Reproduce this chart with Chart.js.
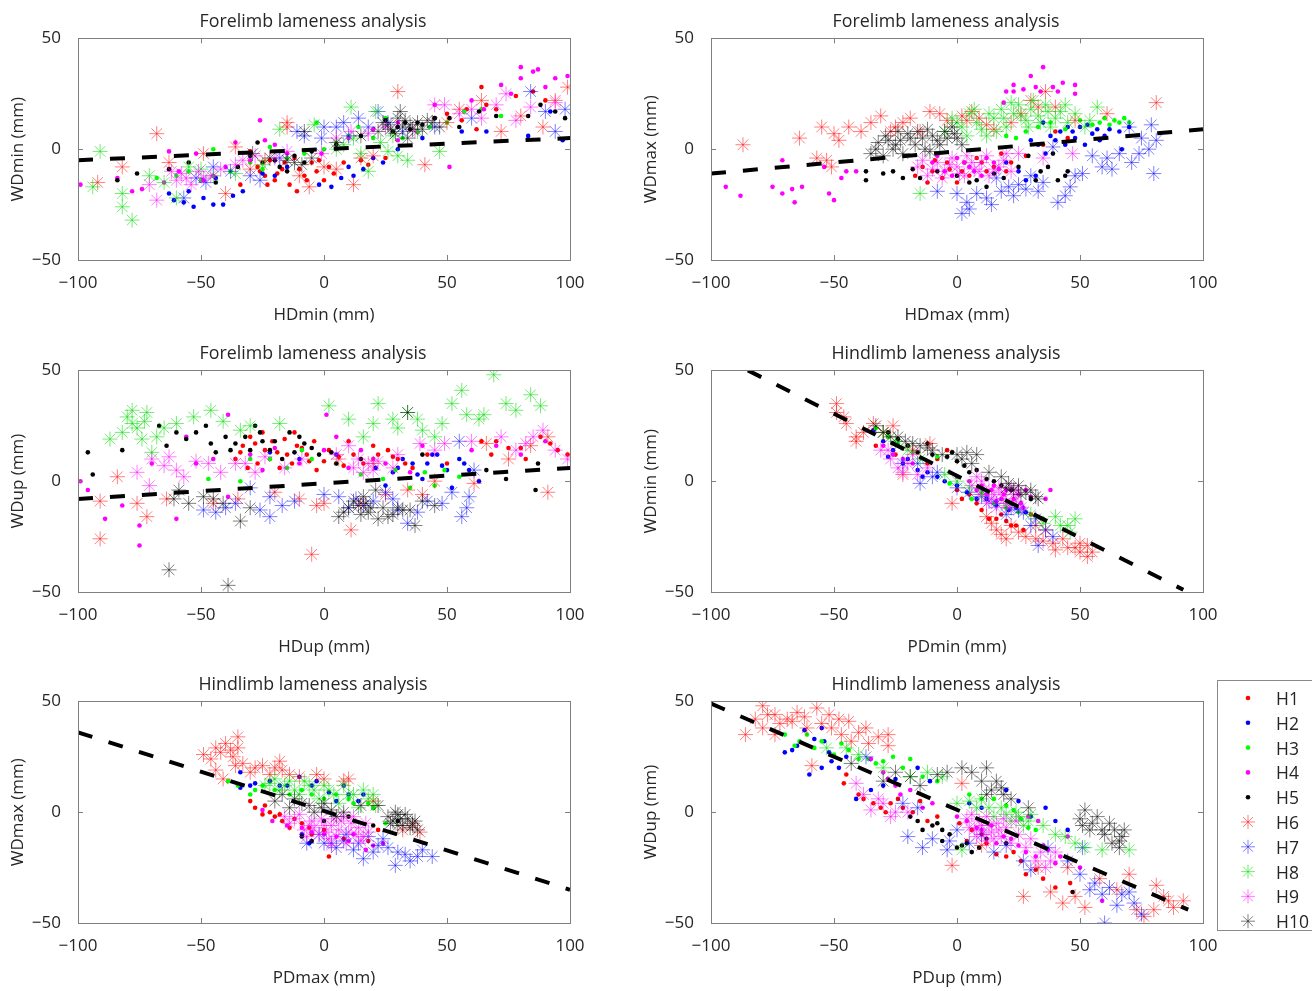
<!DOCTYPE html>
<html>
<head>
<meta charset="utf-8">
<script src="https://cdn.jsdelivr.net/npm/chart.js@4/dist/chart.umd.min.js"></script>
<style>
body{margin:0;background:#fff;width:1312px;height:991px;position:relative;overflow:hidden;font-family:"Open Sans",sans-serif}
canvas.pl{position:absolute}
#legend{position:absolute;left:1217px;top:680px;width:100px;height:251px;border:1px solid #8a8a8a;background:#fff;box-sizing:border-box}
#legend canvas{position:absolute;left:0;top:0}
#legend span{position:absolute;left:58px;font-size:17.5px;color:#262626;line-height:20px}
</style>
</head>
<body>
<canvas class="pl" id="c1" width="656" height="330" style="left:0;top:0"></canvas>
<canvas class="pl" id="c2" width="656" height="330" style="left:633px;top:0"></canvas>
<canvas class="pl" id="c3" width="656" height="330" style="left:0;top:332px"></canvas>
<canvas class="pl" id="c4" width="656" height="330" style="left:633px;top:332px"></canvas>
<canvas class="pl" id="c5" width="656" height="330" style="left:0;top:663px"></canvas>
<canvas class="pl" id="c6" width="656" height="330" style="left:633px;top:663px"></canvas>
<div id="legend"><canvas id="lg" width="100" height="251"></canvas></div>
<script>
// labels
var horses=['H1','H2','H3','H4','H5','H6','H7','H8','H9','H10'];
var panelTitles=['Forelimb lameness analysis','Forelimb lameness analysis','Forelimb lameness analysis','Hindlimb lameness analysis','Hindlimb lameness analysis','Hindlimb lameness analysis'];
var xNames=['HDmin (mm)','HDmax (mm)','HDup (mm)','PDmin (mm)','PDmax (mm)','PDup (mm)'];
var yNames=['WDmin (mm)','WDmax (mm)','WDup (mm)','WDmin (mm)','WDmax (mm)','WDup (mm)'];
var xTickVals=[-100,-50,0,50,100];
var yTickVals=[-50,0,50];

// panel 1 : HDmin vs WDmin
var p1Fit=[[-100,-5],[100,5]];
var p1H1=[[-30,-1],[-27,-8],[-24,-12],[-20,-14],[-17,-9],[-14,-16],[-11,-19],[-8,-12],[-5,-6],[-22,-5],[-3,-10],[2,-8],[8,-6],[15,-5],[18,-7],[25,-4],[45,14],[50,16],[56,13],[62,9],[64,28],[70,18],[78,24],[85,26],[90,22],[-34,-16],[-12,-4],[0,-14],[-26,-10],[-19,-11],[-16,-6],[-10,-9],[-7,-14],[-2,-5],[4,-11],[-23,-16],[58,18],[66,20]];
var p1H2=[[-63,-20],[-61,-23],[-57,-24],[-53,-26],[-49,-22],[-45,-25],[-41,-25],[-44,-13],[-55,-19],[-33,-19],[-25,-11],[-15,-8],[-2,-16],[3,-17],[7,-13],[10,-8],[16,-9],[24,-6],[30,0],[40,5],[56,8],[66,8],[83,6],[92,17],[97,4],[-37,-21],[-20,-12],[12,-12],[20,-4]];
var p1H3=[[-68,-13],[-55,-10],[-45,0],[-38,-10],[-30,-6],[-22,1],[-15,-4],[-8,-2],[-3,12],[5,3],[14,10],[20,5],[25,14],[32,5],[38,8],[43,10],[50,12],[57,17],[64,18],[72,15],[-60,-12],[-50,-14],[-25,-9],[0,0],[10,6]];
var p1H4=[[-99,-16],[-84,-13],[-78,-19],[-74,-18],[-63,-1],[-59,-10],[-52,-2],[-49,-14],[-36,3],[-26,13],[-24,4],[-15,-2],[-1,-2],[10,5],[20,9],[30,12],[45,20],[51,-8],[60,22],[72,29],[76,25],[80,37],[80,32],[85,35],[87,36],[94,32],[99,33],[-65,-15],[-45,-12],[-40,-8],[-30,-5],[-20,2],[5,0],[30,4],[65,18],[90,28]];
var p1H5=[[-84,-14],[-76,-11],[-63,-9],[-55,-6],[-44,-15],[-35,-8],[-30,-3],[-27,3],[-20,-5],[-12,-3],[-5,-1],[5,2],[15,6],[25,13],[30,10],[38,12],[45,14],[51,14],[55,10],[63,17],[70,15],[83,15],[88,20],[94,17],[98,14],[-25,-6],[-18,-8],[-15,-10],[-8,-6],[28,8],[33,12],[35,9],[40,11]];
var p1H6=[[-92,-15],[-82,-8],[-68,7],[-63,-6],[-49,-2],[-40,-20],[-36,1],[-24,-5],[-15,12],[-15,10],[-6,-17],[0,-8],[12,-16],[20,-3],[30,26],[41,-7],[50,12],[64,22],[72,8],[89,10],[94,22],[99,28],[-30,-9],[-10,-12],[5,-9],[15,-4],[55,18],[80,15]];
var p1H7=[[-57,-22],[-52,-13],[-45,-8],[-38,-10],[-26,-14],[-18,-4],[-11,8],[-1,5],[5,10],[14,14],[22,17],[32,8],[45,10],[60,14],[84,26],[90,17],[94,8],[98,18],[-8,6],[0,10],[8,12],[10,6],[18,10],[26,12],[-30,-12],[-48,-15]];
var p1H8=[[-94,-17],[-91,-1],[-82,-20],[-82,-26],[-78,-32],[-71,-12],[-60,-22],[-50,-9],[-36,-11],[-25,-7],[-18,9],[-4,11],[5,0],[11,19],[18,-10],[21,17],[26,-1],[34,-5],[38,8],[47,-1],[8,2],[12,5],[15,-2],[23,3],[28,6],[30,-3],[-65,-15],[-55,-8],[-45,-12]];
var p1H9=[[-71,-16],[-68,-23],[-62,-10],[-56,-13],[-49,-13],[-42,-9],[-36,-7],[-28,-3],[-15,-1],[-1,-2],[11,8],[25,10],[37,8],[45,20],[49,20],[64,14],[74,25],[78,13],[84,19],[94,21],[-60,-14],[-58,-11],[-54,-16],[-51,-10],[-46,-12],[-33,-5],[-20,-4],[5,5],[18,7],[55,16],[60,18],[70,20]];
var p1H10=[[-29,-2],[-22,-4],[-15,-5],[-9,-7],[-8,8],[5,3],[15,6],[22,8],[26,11],[30,14],[31,17],[32,10],[34,5],[36,9],[38,12],[42,13],[47,10],[24,12],[27,9],[29,7],[33,13],[35,11],[40,9],[44,12],[-12,-6],[-5,-4]];

// panel 2 : HDmax vs WDmax
var p2Fit=[[-100,-11],[100,9]];
var p2H1=[[-17,-12],[-14,-8],[-12,-15],[-9,-5],[-6,-13],[-3,-9],[0,-15],[3,-6],[5,-12],[8,-4],[12,-10],[15,-8],[18,-2],[22,-6],[28,-3],[35,2],[40,8],[45,5],[-10,-10],[-4,-6],[2,-10],[10,-6],[20,-10]];
var p2H2=[[20,-6],[25,-10],[28,-14],[32,-12],[33,2],[35,12],[38,6],[40,4],[42,8],[45,10],[48,5],[50,10],[52,2],[55,7],[58,4],[62,9],[66,8],[67,0],[70,10],[30,4],[36,-2],[44,2],[47,8],[53,11],[57,9],[60,6]];
var p2H3=[[20,6],[24,5],[28,8],[33,10],[38,12],[44,9],[50,13],[55,11],[58,12],[60,14],[62,11],[64,13],[66,12],[68,14],[70,12]];
var p2H4=[[-94,-17],[-88,-21],[-75,-17],[-71,-20],[-71,-5],[-67,-18],[-66,-24],[-63,-17],[-54,-8],[-52,-20],[-50,-23],[-47,-13],[-45,-10],[-41,-10],[-10,-6],[-5,-10],[0,-4],[5,-8],[10,-12],[15,-6],[19,21],[20,26],[23,29],[23,26],[27,27],[30,33],[32,28],[34,26],[35,37],[39,28],[41,26],[43,30],[48,29],[48,25],[-8,-3],[-2,-12],[3,-6],[7,-10],[12,-4],[17,-9]];
var p2H5=[[-37,-14],[-37,-10],[-26,-10],[-22,-13],[-15,-13],[-8,-10],[0,-12],[5,-15],[12,-17],[19,-13],[25,-8],[29,-3],[32,-14],[37,-8],[39,-2],[41,-14],[45,-10],[-30,-11],[-18,-9],[8,-14],[15,-11],[34,-10],[44,-12]];
var p2H6=[[-87,2],[-64,5],[-57,-4],[-55,10],[-53,-5],[-51,-8],[-50,7],[-48,4],[-39,8],[-31,15],[-27,8],[-25,10],[-19,14],[-15,8],[-11,17],[-7,16],[2,15],[4,13],[9,14],[15,9],[22,12],[30,22],[36,26],[40,19],[48,13],[61,16],[81,21],[-44,10],[-35,12],[-22,12],[-4,13],[6,17],[12,11],[26,16],[33,19]];
var p2H7=[[-8,-19],[0,-20],[2,-29],[4,-24],[12,-22],[16,-13],[21,-17],[25,-16],[30,-12],[33,-19],[39,1],[41,-24],[46,-17],[51,-11],[55,-3],[59,-8],[61,-4],[70,10],[71,-6],[74,-2],[78,0],[79,11],[80,-11],[81,4],[5,-27],[8,-20],[14,-25],[18,-19],[23,-21],[28,-18],[35,-15],[44,-21],[48,-12],[63,-9],[66,-2],[75,5]];
var p2H8=[[-15,-20],[-5,8],[-2,14],[2,10],[5,16],[8,12],[12,6],[15,14],[18,18],[20,10],[23,16],[25,20],[28,13],[30,18],[33,15],[36,20],[38,10],[42,17],[45,12],[54,13],[57,19],[0,12],[4,6],[7,18],[10,9],[13,16],[16,8],[19,14],[22,21],[26,15],[29,10],[31,22],[34,12],[37,17],[40,14],[44,20],[48,16],[52,10]];
var p2H9=[[-16,-8],[-12,-12],[-8,-6],[-5,-10],[-2,-4],[0,-8],[3,-12],[6,-6],[9,-10],[12,-3],[15,-9],[19,-5],[25,-2],[35,-4],[47,-2],[-14,-5],[-10,-9],[-6,-13],[-3,-7],[1,-11],[4,-3],[7,-9],[10,-6],[13,-12],[17,-8],[20,-2],[22,-10]];
var p2H10=[[-35,-2],[-32,3],[-29,6],[-26,0],[-23,4],[-20,7],[-17,2],[-14,5],[-11,-1],[-8,4],[-5,8],[-2,10],[0,5],[2,2],[-33,0],[-30,-3],[-28,4],[-25,2],[-22,-2],[-19,5],[-16,8],[-13,0],[-10,6],[-7,2],[-4,5],[-1,7],[-12,9],[-24,8]];

// panel 3 : HDup vs WDup
var p3Fit=[[-100,-8],[100,6]];
var p3H1=[[-36,10],[-33,16],[-30,20],[-27,8],[-24,14],[-21,18],[-18,6],[-15,12],[-12,22],[-9,15],[-6,9],[-3,5],[2,14],[6,11],[10,18],[16,8],[22,12],[26,14],[30,10],[36,6],[42,12],[50,8],[64,18],[68,12],[75,15],[82,10],[88,20],[95,14],[99,12],[-34,13],[-31,6],[-28,17],[-25,22],[-22,10],[-19,13],[-16,19],[-13,8],[-11,16],[-7,12],[-4,18],[0,9],[8,7],[12,12],[20,16],[28,11],[33,8],[70,18],[80,15],[92,17]];
var p3H2=[[-22,13],[-10,10],[5,12],[21,6],[25,-2],[28,4],[32,10],[36,8],[40,1],[44,12],[48,7],[52,-3],[55,10],[59,5],[63,0],[30,6],[38,3],[42,8],[46,12],[50,5],[57,8]];
var p3H3=[[-47,1],[-34,0],[-22,10],[-15,6],[-9,14],[5,8],[24,1],[29,5],[35,-3],[41,4],[49,5],[55,2],[-30,10],[-5,10],[15,3],[45,-2]];
var p3H4=[[-99,0],[-96,-4],[-89,-17],[-82,-11],[-75,-20],[-75,-29],[-60,-17],[-56,20],[-52,8],[-39,30],[-39,-7],[-30,12],[-20,15],[-10,8],[1,30],[10,6],[20,10],[35,4],[60,14],[80,12],[90,18],[-70,8],[-45,10],[-25,5],[0,14],[5,20],[15,14],[25,8],[40,16],[70,16]];
var p3H5=[[-96,13],[-94,3],[-82,14],[-67,25],[-64,16],[-56,19],[-48,25],[-44,13],[-40,20],[-36,17],[-28,25],[-25,18],[-22,14],[-17,10],[-14,22],[-10,20],[-5,15],[3,13],[15,10],[40,12],[66,5],[74,1],[86,-4],[87,8],[-60,22],[-52,22],[-46,17],[-38,14],[-32,20],[-30,14],[-26,22],[-20,18],[-12,13],[-8,17],[-2,12],[5,8]];
var p3H6=[[-91,-26],[-91,-9],[-84,2],[-76,-10],[-72,-16],[-64,-8],[-45,-10],[-20,-5],[-5,-33],[-3,-11],[6,10],[11,-22],[20,8],[34,-4],[45,0],[61,-1],[66,17],[91,20],[91,-5],[-35,-8],[-10,-8],[0,-10],[15,-10],[25,-6],[40,-6],[75,10],[84,16]];
var p3H7=[[-49,-13],[-44,-14],[-36,-10],[-30,-3],[-22,-7],[-22,-16],[-17,-11],[6,-7],[13,-8],[16,-11],[25,-5],[30,-13],[34,-19],[42,-9],[55,18],[56,-16],[59,-7],[61,5],[-40,-12],[-26,-13],[-12,-9],[0,-6],[10,-12],[20,-9],[28,-8],[38,-14],[48,-10],[52,-5],[58,-12]];
var p3H8=[[-87,19],[-78,32],[-78,26],[-74,19],[-72,31],[-70,13],[-60,26],[-53,29],[-41,27],[-34,23],[-18,26],[2,34],[16,20],[22,35],[28,28],[34,31],[40,23],[45,20],[52,35],[56,41],[63,28],[69,48],[74,35],[84,39],[-82,22],[-80,29],[-76,24],[-73,27],[-68,20],[-65,24],[-46,32],[-30,25],[10,28],[20,26],[30,24],[38,28],[48,26],[58,30],[65,30],[78,32],[88,34]];
var p3H9=[[-76,4],[-71,-2],[-70,10],[-63,11],[-57,2],[-47,8],[-36,8],[-28,4],[-9,10],[10,16],[16,4],[18,8],[28,6],[39,17],[49,17],[72,20],[82,17],[89,23],[94,14],[99,10],[-65,7],[-60,5],[-52,9],[-42,4],[-32,8],[-24,11],[-16,6],[5,12],[12,6],[14,10],[20,5],[22,9],[30,12],[45,14],[60,18],[78,14],[85,20]];
var p3H10=[[-63,-40],[-61,-8],[-59,-4],[-49,-7],[-41,-10],[-39,-47],[-34,-18],[6,-16],[10,-12],[14,-11],[16,-7],[18,-14],[21,-4],[26,-16],[30,-12],[32,-13],[34,31],[37,-20],[45,-11],[-55,-10],[-45,-8],[-30,-12],[8,-14],[12,-9],[15,-15],[17,-10],[19,-12],[22,-17],[24,-12],[28,-15],[35,-13],[40,-9]];

// panel 4 : PDmin vs WDmin
var p4Fit=[[-85,50],[92,-49]];
var p4H1=[[-33,16],[-25,12],[-8,10],[-4,14],[0,-4],[5,-6],[10,-13],[13,-17],[16,-17],[20,-18],[24,-20],[27,-22],[30,-15],[-28,20],[-12,8],[2,-8],[8,-10],[18,-15],[22,-20]];
var p4H2=[[-34,23],[-30,18],[-28,11],[-22,8],[-16,5],[-14,2],[-8,2],[0,-2],[8,-8],[16,-11],[21,-13],[28,-14],[-26,14],[-20,10],[-12,4],[-5,0],[4,-5],[12,-8],[24,-12]];
var p4H3=[[-33,24],[-24,17],[-8,11],[-3,-1],[6,-8],[15,-10],[25,-14],[35,-17],[-28,20],[-18,13],[0,2],[10,-5],[20,-12]];
var p4H4=[[-30,16],[-22,10],[5,0],[8,-4],[12,-6],[15,-2],[18,-8],[20,-4],[22,-10],[25,-6],[27,-12],[30,-7],[36,-8],[38,-4],[-26,12],[-18,8],[0,2],[10,-2],[14,-4],[16,-9],[19,-6],[23,-8],[26,-10],[28,-4]];
var p4H5=[[-24,19],[-20,16],[-16,13],[-10,12],[-4,11],[-2,13],[3,7],[8,5],[15,0],[22,-4],[30,-8],[-28,22],[-12,17],[0,9],[5,4],[12,1],[18,-2]];
var p4H6=[[-49,35],[-49,31],[-45,26],[-41,20],[-41,18],[-34,26],[-26,25],[-22,3],[-11,17],[-2,-10],[12,-16],[16,-22],[18,-24],[25,-23],[32,-26],[32,-20],[39,-28],[43,-26],[45,-30],[50,-32],[53,-34],[53,-29],[-46,29],[-38,22],[-30,22],[-18,14],[14,-19],[20,-26],[22,-20],[28,-25],[35,-27],[36,-22],[40,-31],[48,-30],[50,-28],[55,-32]];
var p4H7=[[-22,8],[-16,8],[-15,-1],[-8,4],[0,-3],[10,-7],[16,-10],[22,-12],[27,-14],[32,-17],[33,-29],[39,-25],[-10,2],[5,-5],[13,-9],[20,-15],[25,-13],[30,-20],[36,-22]];
var p4H8=[[-30,22],[-20,14],[-5,3],[10,-6],[30,-15],[40,-16],[46,-23],[48,-17],[45,-20],[-25,18],[-15,10],[0,0],[5,-3],[20,-11],[35,-19],[42,-20]];
var p4H9=[[-31,14],[-27,10],[-24,6],[-20,8],[-16,3],[-12,6],[8,2],[11,-4],[14,-8],[17,-3],[20,-10],[23,-6],[26,-12],[6,-2],[9,-6],[10,0],[12,-10],[13,-4],[15,-6],[16,-12],[18,-5],[19,-8],[21,-12],[22,-3],[24,-9],[25,-4],[-28,14],[-22,4],[-18,12]];
var p4H10=[[-33,25],[-27,20],[-21,18],[-15,16],[-10,14],[2,10],[4,13],[8,12],[13,4],[21,-1],[25,-2],[28,-5],[32,-7],[33,-8],[-30,22],[-24,20],[-18,17],[-12,15],[-6,12],[0,12],[6,8],[18,2],[20,-3],[23,-4],[26,-6],[30,-4]];

// panel 5 : PDmax vs WDmax
var p5Fit=[[-100,36],[100,-35]];
var p5H1=[[-30,5],[-28,2],[-25,-1],[-22,0],[-20,-2],[-17,-4],[-14,-7],[-9,-5],[-5,-10],[2,-20],[8,-12],[18,-13],[22,-8],[-24,3],[-18,-1],[-12,-3],[-6,-7],[0,-8]];
var p5H2=[[-34,18],[-34,11],[-28,13],[-22,14],[-15,12],[-10,16],[-3,14],[2,9],[5,5],[10,8],[14,5],[-9,-10],[-6,-14],[20,2],[-30,12],[-18,12],[-5,12],[8,12],[16,8]];
var p5H3=[[-39,14],[-30,8],[-25,12],[-20,10],[-14,8],[-9,10],[0,6],[5,8],[12,4],[18,4],[25,-5],[-35,12],[-28,10],[-5,8],[10,6],[20,2]];
var p5H4=[[-25,1],[-21,-4],[-15,-6],[-9,-7],[0,-10],[10,-13],[17,-17],[24,-14],[-5,-9],[5,-11],[12,-10],[20,-15]];
var p5H5=[[-9,-11],[-5,-13],[0,-4],[10,-2],[20,-6],[30,-4]];
var p5H6=[[-49,26],[-44,29],[-44,19],[-41,15],[-40,31],[-37,25],[-36,21],[-35,34],[-35,29],[-30,18],[-25,21],[-22,17],[-18,23],[-17,19],[-14,17],[-3,17],[8,14],[20,5],[32,-8],[39,-9],[-46,24],[-42,27],[-38,28],[-33,22],[-28,20],[-20,20],[-10,16],[0,15],[10,15],[36,-6]];
var p5H7=[[-7,-14],[-2,-10],[3,-14],[9,-10],[12,-17],[16,-21],[18,-11],[22,-15],[26,-16],[29,-24],[33,-19],[38,-20],[44,-20],[0,-14],[5,-16],[8,-13],[14,-14],[20,-18],[24,-12],[30,-18],[35,-22],[40,-17]];
var p5H8=[[-22,13],[-18,10],[-14,14],[-10,8],[-6,12],[-2,6],[2,10],[6,4],[10,8],[14,2],[18,6],[21,3],[-24,12],[-16,12],[-12,10],[-8,14],[-4,10],[0,12],[4,8],[8,12],[12,8],[16,10],[20,8],[-20,15]];
var p5H9=[[-12,-3],[-8,-8],[-5,-4],[-2,-10],[0,-6],[2,-12],[4,-3],[6,-8],[9,-14],[11,-5],[13,-10],[15,-13],[18,-9],[-16,-2],[8,-2],[-14,-5],[-10,-1],[-7,-11],[-4,-7],[-1,-3],[1,-9],[3,-6],[5,-11],[7,-4],[10,-9],[12,-2],[14,-7],[16,-11],[17,-5],[-6,-6],[3,-15]];
var p5H10=[[-20,5],[-14,2],[-9,4],[-4,0],[-1,2],[5,-2],[15,3],[22,3],[26,-2],[28,-4],[30,-1],[32,-6],[34,-3],[36,-5],[38,-8],[-17,8],[-12,6],[-6,3],[0,4],[3,1],[8,0],[27,-5],[29,0],[31,-3],[33,-1],[35,-7],[37,-4],[30,-6]];

// panel 6 : PDup vs WDup
var p6Fit=[[-100,49],[94,-44]];
var p6H1=[[-46,13],[-45,17],[-40,8],[-34,4],[-31,2],[-27,4],[-22,2],[-15,5],[-8,-2],[1,-5],[4,-13],[10,-10],[16,-19],[20,-20],[26,-22],[32,-26],[40,-34],[46,-32],[-38,6],[-29,0],[-24,6],[-18,0],[-12,-4],[6,-8],[12,-14],[23,-18],[28,-28],[35,-30]];
var p6H2=[[-70,27],[-67,28],[-62,37],[-60,17],[-55,38],[-55,20],[-54,32],[-51,23],[-41,6],[-30,12],[-16,20],[-11,14],[5,4],[20,10],[30,-2],[36,2],[45,-8],[-65,30],[-58,33],[-52,27],[-48,20],[-45,25],[-35,10],[-25,15],[10,2],[25,5],[40,-4]];
var p6H3=[[-70,35],[-64,32],[-61,35],[-58,29],[-47,31],[-40,24],[-33,22],[-26,25],[-19,24],[-8,14],[5,8],[15,6],[23,1],[29,-7],[32,-8],[-66,30],[-55,32],[-50,26],[-44,28],[-36,24],[-30,23],[-22,20],[-14,16],[10,6],[20,3],[26,-3]];
var p6H4=[[-35,24],[-28,15],[-23,8],[-19,10],[-10,4],[0,-2],[8,-7],[14,-6],[19,-11],[25,-15],[29,-2],[32,-20],[33,-4],[37,-17],[40,-23],[45,-11],[59,-40],[-30,18],[-25,12],[-14,2],[4,-4],[10,-8],[16,-14],[22,-12],[28,-18],[35,-15],[42,-20],[50,-25]];
var p6H5=[[-19,-2],[-14,-8],[-8,-5],[-6,-8],[-6,-13],[0,-16],[2,-15],[9,-16],[20,-14],[47,-36],[-16,-4],[-10,-6],[-3,-10],[4,-14],[6,-18],[12,-12]];
var p6H6=[[-86,35],[-79,48],[-79,38],[-74,44],[-74,35],[-69,42],[-67,41],[-62,43],[-61,38],[-59,21],[-57,47],[-52,44],[-51,38],[-47,35],[-44,41],[-43,32],[-37,38],[-36,31],[-28,35],[-28,30],[-2,-24],[2,13],[27,-38],[33,-25],[43,-41],[45,-25],[52,-43],[70,-28],[76,-47],[80,-44],[81,-33],[84,-38],[88,-43],[92,-40],[-82,42],[-77,44],[-72,40],[-65,45],[-55,40],[-48,42],[-40,36],[-32,34],[10,-15],[38,-36],[48,-38],[58,-30],[65,-35],[73,-44],[86,-40]];
var p6H7=[[-37,25],[-22,4],[-20,-11],[-16,2],[-14,-16],[-4,-17],[-3,-13],[10,-10],[27,-22],[37,-16],[51,-16],[56,-32],[59,-37],[60,-50],[67,-37],[72,-41],[75,-46],[-10,-12],[0,-8],[5,-14],[15,-18],[20,-15],[30,-26],[45,-22],[50,-28],[54,-35],[62,-34],[65,-42],[70,-36]];
var p6H8=[[-53,29],[-45,29],[-30,20],[-19,16],[-6,16],[0,4],[2,-17],[5,5],[13,2],[20,-1],[25,-2],[29,-4],[44,-11],[52,-16],[59,-17],[70,-17],[8,2],[10,6],[15,-2],[18,2],[22,-4],[24,0],[27,-6],[30,-1],[35,-6],[40,-10],[48,-14],[-40,26],[-12,18]];
var p6H9=[[-41,13],[-38,8],[-35,1],[-30,4],[-27,-2],[-20,0],[4,-3],[7,-8],[9,-4],[11,-10],[13,-6],[15,-12],[17,-8],[19,-3],[25,-10],[32,-22],[36,-25],[40,-18],[5,-7],[6,-1],[8,-11],[10,-6],[12,-2],[12,-13],[14,-9],[16,-5],[18,-11],[20,-7],[22,-14],[24,-4],[28,-16],[30,-12],[34,-18],[38,-22],[-32,6],[-25,0]];
var p6H10=[[-43,22],[-30,14],[-19,16],[-8,17],[2,20],[12,20],[14,10],[16,14],[19,8],[29,2],[51,-6],[52,1],[55,-5],[59,-8],[64,-8],[66,-13],[66,-16],[68,-8],[-25,18],[-15,12],[-4,18],[6,18],[10,14],[12,8],[18,11],[22,6],[50,-3],[54,-8],[57,-2],[60,-10],[62,-5],[63,-14],[67,-11]];

var panels=[
  {id:'c1',series:[p1H1,p1H2,p1H3,p1H4,p1H5,p1H6,p1H7,p1H8,p1H9,p1H10],fit:p1Fit},
  {id:'c2',series:[p2H1,p2H2,p2H3,p2H4,p2H5,p2H6,p2H7,p2H8,p2H9,p2H10],fit:p2Fit},
  {id:'c3',series:[p3H1,p3H2,p3H3,p3H4,p3H5,p3H6,p3H7,p3H8,p3H9,p3H10],fit:p3Fit},
  {id:'c4',series:[p4H1,p4H2,p4H3,p4H4,p4H5,p4H6,p4H7,p4H8,p4H9,p4H10],fit:p4Fit},
  {id:'c5',series:[p5H1,p5H2,p5H3,p5H4,p5H5,p5H6,p5H7,p5H8,p5H9,p5H10],fit:p5Fit},
  {id:'c6',series:[p6H1,p6H2,p6H3,p6H4,p6H5,p6H6,p6H7,p6H8,p6H9,p6H10],fit:p6Fit}
];

// marker colours: dots (H1-H5) solid, asterisks (H6-H10) see-through
var dotCol=['#ff0000','#0000ff','#00ff00','#ff00ff','#000000'];
var starCol=['rgba(255,0,0,0.5)','rgba(0,0,255,0.5)','rgba(0,220,0,0.55)','rgba(255,0,255,0.5)','rgba(0,0,0,0.5)'];
var textCol='#262626';
var fontFam='"Open Sans", sans-serif';

function fmt(v){ return v<0 ? '\u2212'+Math.abs(v) : ''+v; }

// plot box + inward ticks like matlab
var boxTicks={
  id:'boxTicks',
  afterDatasetsDraw:function(chart){
    var ctx=chart.ctx, a=chart.chartArea, sx=chart.scales.x, sy=chart.scales.y;
    ctx.save();
    ctx.strokeStyle='#7f7f7f';
    ctx.lineWidth=1;
    ctx.strokeRect(Math.round(a.left)+0.5,Math.round(a.top)+0.5,Math.round(a.right-a.left),Math.round(a.bottom-a.top));
    ctx.beginPath();
    xTickVals.slice(1,-1).forEach(function(v){
      var px=Math.round(sx.getPixelForValue(v))+0.5;
      ctx.moveTo(px,a.bottom);ctx.lineTo(px,a.bottom-5);
      ctx.moveTo(px,a.top);ctx.lineTo(px,a.top+5);
    });
    yTickVals.slice(1,-1).forEach(function(v){
      var py=Math.round(sy.getPixelForValue(v))+0.5;
      ctx.moveTo(a.left,py);ctx.lineTo(a.left+5,py);
      ctx.moveTo(a.right,py);ctx.lineTo(a.right-5,py);
    });
    ctx.stroke();
    ctx.restore();
  }
};

panels.forEach(function(p,k){
  var ds=[{
    label:'fit',data:p.fit,showLine:true,borderColor:'#000',borderWidth:4,
    borderDash:[15,17],pointRadius:0,fill:false,order:0
  }];
  p.series.forEach(function(d,i){
    var star=i>=5;
    ds.push({
      label:horses[i],data:d,
      pointStyle:star?'star':'circle',
      pointRadius:star?7.5:2.3,
      borderWidth:star?1:0,
      borderColor:star?starCol[i-5]:dotCol[i],
      backgroundColor:star?starCol[i-5]:dotCol[i],
      order:11-i
    });
  });
  new Chart(document.getElementById(p.id),{
    type:'scatter',
    data:{datasets:ds},
    plugins:[boxTicks],
    options:{
      responsive:false,animation:false,
      layout:{padding:{left:0,right:30,top:0,bottom:0}},
      plugins:{
        legend:{display:false},tooltip:{enabled:false},
        title:{display:true,text:panelTitles[k],color:textCol,
          font:{family:fontFam,size:17.8,weight:'normal'},padding:{top:11,bottom:6}}
      },
      scales:{
        x:{min:-100,max:100,
          grid:{display:false},border:{display:false},
          ticks:{stepSize:50,color:textCol,padding:5,maxRotation:0,font:{family:fontFam,size:17},callback:fmt},
          title:{display:true,text:xNames[k],color:textCol,font:{family:fontFam,size:17},padding:{top:0,bottom:5}},
          afterFit:function(s){s.height=70;}
        },
        y:{min:-50,max:50,
          grid:{display:false},border:{display:false},
          ticks:{stepSize:50,color:textCol,padding:9,font:{family:fontFam,size:17},callback:fmt},
          title:{display:true,text:yNames[k],color:textCol,font:{family:fontFam,size:17},padding:{top:8,bottom:0}},
          afterFit:function(s){s.width=78;}
        },
        // empty spacer on the right so the title sits where matlab puts it
        yr:{position:'right',display:true,
          grid:{display:false},border:{display:false},ticks:{display:false},
          afterFit:function(s){s.width=56;}
        }
      }
    }
  });
});

// legend
(function(){
  var box=document.getElementById('legend');
  var ctx=document.getElementById('lg').getContext('2d');
  horses.forEach(function(h,i){
    var cy=17+i*24.8, cx=30;
    if(i<5){
      ctx.fillStyle=dotCol[i];
      ctx.beginPath();ctx.arc(cx,cy,2.3,0,Math.PI*2);ctx.fill();
    }else{
      ctx.strokeStyle=starCol[i-5];ctx.lineWidth=1;
      ctx.beginPath();
      for(var a=0;a<4;a++){
        var ang=a*Math.PI/4, dx=Math.cos(ang)*7, dy=Math.sin(ang)*7;
        ctx.moveTo(cx-dx,cy-dy);ctx.lineTo(cx+dx,cy+dy);
      }
      ctx.stroke();
    }
    var s=document.createElement('span');
    s.textContent=h;
    s.style.top=(cy-10)+'px';
    box.appendChild(s);
  });
})();
</script>
</body>
</html>
